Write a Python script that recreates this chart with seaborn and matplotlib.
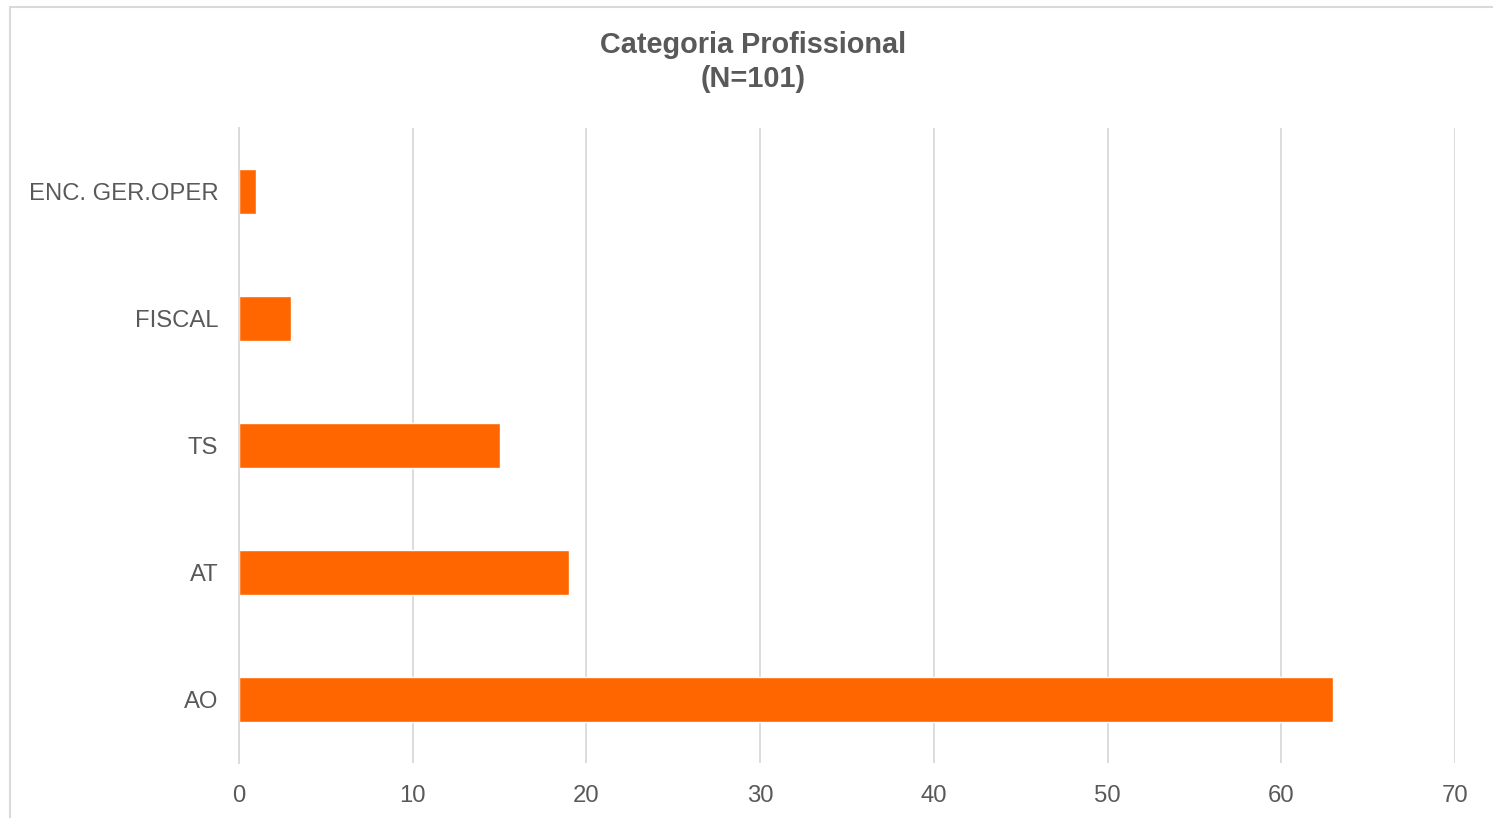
import matplotlib
matplotlib.use("Agg")
import matplotlib.pyplot as plt
import seaborn as sns
import pandas as pd
from matplotlib.patches import Rectangle

categories = ["ENC. GER.OPER", "FISCAL", "TS", "AT", "AO"]
values = [1, 3, 15, 19, 63]
xticks = [0, 10, 20, 30, 40, 50, 60, 70]

sns.set_theme(style="white")
plt.rcParams['font.family'] = ['Liberation Sans', 'DejaVu Sans']

df = pd.DataFrame({"cat": categories, "val": values})

fig = plt.figure(figsize=(14.93, 8.18), dpi=100)
ax = fig.add_axes([239/1493, 1-763/818, (1455-239)/1493, (763-128)/818])

sns.barplot(data=df, y="cat", x="val", order=categories, color="#FF6600",
            saturation=1, width=0.35, ax=ax, zorder=3)

ax.set_xlim(0, 70)
ax.set_ylim(4.5, -0.5)
ax.set_xticks(xticks)
ax.set_xticklabels([str(t) for t in xticks])
ax.grid(axis="x", color="#D9D9D9", linewidth=1.3, zorder=0)
ax.grid(axis="y", visible=False)
for s in ["top", "right", "bottom"]:
    ax.spines[s].set_visible(False)
ax.spines["left"].set_color("#D9D9D9")
ax.spines["left"].set_linewidth(1.3)
ax.spines["left"].set_zorder(4)
ax.set_xlabel("")
ax.set_ylabel("")
ax.tick_params(axis="both", length=0, labelsize=17.2, labelcolor="#595959")
ax.tick_params(axis="x", pad=15.5)
ax.tick_params(axis="y", pad=15)

fig.text(753/1493, 1-62/818, "Categoria Profissional\n(N=101)", ha="center", va="center",
         fontsize=20.8, fontweight="bold", color="#595959", linespacing=1.3)

fig.patches.append(Rectangle((10/1493, -0.05), 1.2, 1-7/818+0.05, transform=fig.transFigure,
                             fill=False, edgecolor="#D9D9D9", linewidth=1.5))

fig.savefig("out.png", dpi=100, facecolor="white")
